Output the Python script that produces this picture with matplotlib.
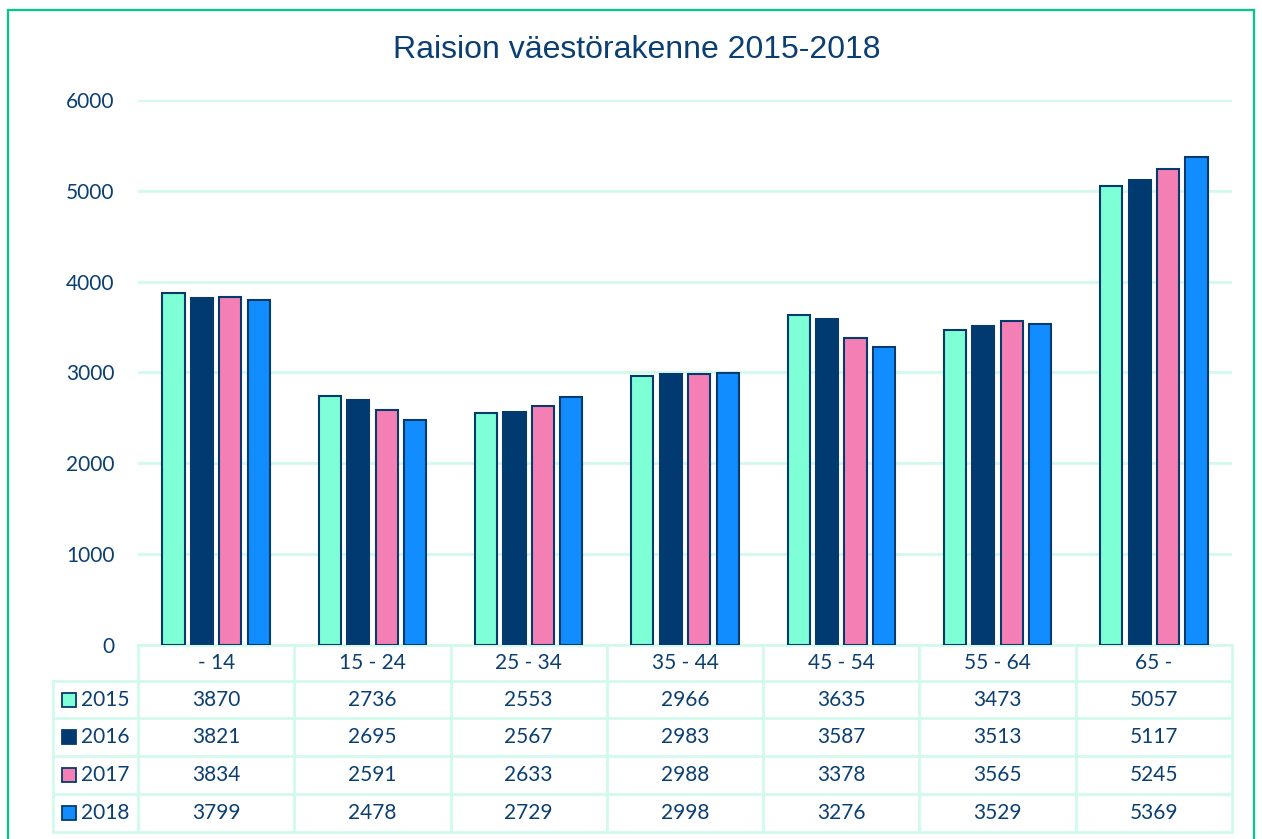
import matplotlib.pyplot as plt
from matplotlib.patches import Rectangle

groups = ["- 14", "15 - 24", "25 - 34", "35 - 44", "45 - 54", "55 - 64", "65 -"]
years = ["2015", "2016", "2017", "2018"]
v2015 = [3870, 2736, 2553, 2966, 3635, 3473, 5057]
v2016 = [3821, 2695, 2567, 2983, 3587, 3513, 5117]
v2017 = [3834, 2591, 2633, 2988, 3378, 3565, 5245]
v2018 = [3799, 2478, 2729, 2998, 3276, 3529, 5369]
series = [v2015, v2016, v2017, v2018]
colors = ["#7FFFD6", "#003A70", "#F47FB5", "#128DFF"]

navy = "#0B3F72"
edge = "#053A6C"
grid = "#D2FAEC"
W, H = 1262, 839

fig = plt.figure(figsize=(W / 100, H / 100), dpi=100)
# plot area in pixels: x 138..1232, y 100..645
ax = fig.add_axes([138 / W, (H - 645) / H, 1094 / W, 545 / H])

x = list(range(len(groups)))
pitch = 0.182
bw = 0.142
for i, (vals, c) in enumerate(zip(series, colors)):
    off = (i - 1.5) * pitch
    ax.bar([xx + off for xx in x], vals, width=bw, color=c, edgecolor=edge,
           linewidth=1.5, zorder=3, label=years[i])

ax.set_xlim(-0.5, 6.5)
ax.set_ylim(0, 6000)
ax.set_yticks(range(0, 6001, 1000))
ax.yaxis.grid(True, color=grid, linewidth=2, zorder=0)
ax.set_xticks([])
for s in ax.spines.values():
    s.set_visible(False)
ax.tick_params(axis="y", length=0, pad=17, labelsize=15, labelcolor=navy)
for t in ax.get_yticklabels():
    t.set_fontfamily("Lato")

fig.text(637 / W, 1 - 50 / H, "Raision väestörakenne 2015-2018", ha="center",
         va="center", fontsize=23, color=navy, family="Liberation Sans")


# data table under the axes, drawn in pixel positions converted to axes units
def ax_y(py):
    return (645 - py) / 545


def ax_x(px):
    return -0.5 + (px - 138) / (1094 / 7)


tr = ax.get_xaxis_transform()
row_edges = [645, 681, 718, 756, 794, 832]
left = 53
right = 1232
kw = dict(transform=tr, color=grid, linewidth=2, clip_on=False, zorder=1)
ax.plot([ax_x(138), ax_x(right)], [ax_y(645)] * 2, **kw)
for py in row_edges[1:]:
    ax.plot([ax_x(left), ax_x(right)], [ax_y(py)] * 2, **kw)
ax.plot([ax_x(left)] * 2, [ax_y(681), ax_y(832)], **kw)
for k in range(len(groups) + 1):
    ax.plot([k - 0.5] * 2, [ax_y(645), ax_y(832)], **kw)

tkw = dict(transform=tr, ha="center", va="center", fontsize=15, color=navy,
           family="Lato", clip_on=False)
for k, g in enumerate(groups):
    ax.text(k, ax_y(663), g, **tkw)
for r, vals in enumerate(series):
    yc = ax_y((row_edges[r + 1] + row_edges[r + 2]) / 2)
    for k, v in enumerate(vals):
        ax.text(k, yc, str(v), **tkw)
    ax.add_patch(Rectangle((ax_x(62), yc - 7 / 545), ax_x(76) - ax_x(62), 14 / 545,
                           transform=tr, facecolor=colors[r], edgecolor=edge,
                           linewidth=1.3, clip_on=False))
    ax.text(ax_x(81), yc, years[r], transform=tr, ha="left", va="center",
            fontsize=15, color=navy, family="Lato", clip_on=False)

# outer frame
fig.patches.append(Rectangle((8 / W, -0.01), 1246 / W, 1 - 10 / H + 0.01,
                             transform=fig.transFigure, fill=False,
                             edgecolor="#00C98B", linewidth=1.6))

fig.savefig("out.png", dpi=100)
